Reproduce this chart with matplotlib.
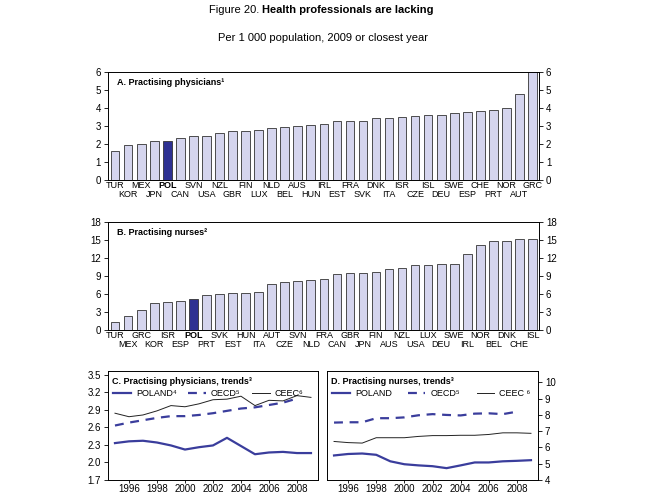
import numpy as np
import matplotlib
matplotlib.use("Agg")
import matplotlib.pyplot as plt

plt.rcParams['font.family'] = ['Liberation Sans', 'DejaVu Sans']

# ---------- data ----------
phys_countries = ["TUR", "KOR", "MEX", "JPN", "POL", "CAN", "SVN", "USA", "NZL", "GBR", "FIN",
                  "LUX", "NLD", "BEL", "AUS", "HUN", "IRL", "EST", "FRA", "SVK", "DNK", "ITA",
                  "ISR", "CZE", "ISL", "DEU", "SWE", "ESP", "CHE", "PRT", "NOR", "AUT", "GRC"]
phys_values = [1.6, 1.95, 2.0, 2.15, 2.18, 2.33, 2.45, 2.43, 2.6, 2.7, 2.72,
               2.75, 2.88, 2.92, 2.98, 3.03, 3.12, 3.27, 3.28, 3.28, 3.42, 3.42,
               3.5, 3.57, 3.6, 3.62, 3.72, 3.78, 3.82, 3.88, 4.0, 4.75, 6.1]

nurse_countries = ["TUR", "MEX", "GRC", "KOR", "ISR", "ESP", "POL", "PRT", "SVK", "EST", "HUN",
                   "ITA", "AUT", "CZE", "SVN", "NLD", "FRA", "CAN", "GBR", "JPN", "FIN", "AUS",
                   "NZL", "USA", "LUX", "DEU", "SWE", "IRL", "NOR", "BEL", "DNK", "CHE", "ISL"]
nurse_values = [1.4, 2.4, 3.3, 4.5, 4.7, 4.8, 5.2, 5.8, 6.0, 6.1, 6.2,
                6.4, 7.6, 8.0, 8.1, 8.4, 8.5, 9.3, 9.5, 9.5, 9.6, 10.1,
                10.4, 10.8, 10.9, 11.0, 11.0, 12.7, 14.1, 14.8, 14.8, 15.1, 15.2]

years = list(range(1995, 2010))
phys_poland = [2.33, 2.36, 2.37, 2.34, 2.29, 2.22, 2.26, 2.29, 2.42, 2.28, 2.14, 2.17, 2.18, 2.16, 2.16]
phys_oecd = [2.63, 2.68, 2.72, 2.76, 2.79, 2.79, 2.81, 2.84, 2.88, 2.92, 2.94, 2.98, 3.02, 3.09]
phys_ceec = [2.84, 2.78, 2.81, 2.88, 2.97, 2.95, 3.00, 3.07, 3.08, 3.13, 2.97, 3.06, 3.05, 3.14, 3.11]

nurse_poland = [5.51, 5.6, 5.63, 5.55, 5.15, 4.97, 4.9, 4.85, 4.73, 4.9, 5.08, 5.08, 5.15, 5.18, 5.22]
nurse_oecd = [7.53, 7.55, 7.55, 7.8, 7.8, 7.85, 7.98, 8.05, 8.0, 7.97, 8.08, 8.1, 8.05, 8.2]
nurse_ceec = [6.37, 6.3, 6.27, 6.6, 6.6, 6.6, 6.68, 6.73, 6.73, 6.75, 6.75, 6.8, 6.9, 6.9, 6.87]

BAR = "#D5D5EE"
POLC = "#2E3192"
LINE = "#3A3D9C"
FS = 7


def bar_panel(ax, names, vals, ymax, step, title):
    x = np.arange(len(names))
    cols = [POLC if n == "POL" else BAR for n in names]
    ax.bar(x, vals, width=0.66, color=cols, edgecolor="#333333", linewidth=0.6, zorder=2)
    ax.set_xlim(-0.55, len(names) - 0.5)
    ax.set_ylim(0, ymax)
    ax.set_yticks(np.arange(0, ymax + 0.1, step))
    ax.tick_params(axis="y", which="both", labelsize=FS, length=3, width=0.6,
                   left=True, right=True, labelleft=True, labelright=True, pad=2)
    # staggered country labels: even positions on the first row, odd ones below
    ax.set_xticks(x[::2], [names[i] for i in x[::2]], fontsize=6.5)
    ax.set_xticks(x[1::2], [names[i] for i in x[1::2]], minor=True, fontsize=6.5)
    ax.tick_params(axis="x", which="major", length=0, pad=1)
    ax.tick_params(axis="x", which="minor", length=0, pad=7.5)
    for lab in ax.get_xticklabels() + ax.get_xticklabels(minor=True):
        if lab.get_text() == "POL":
            lab.set_fontweight("bold")
    for s in ax.spines.values():
        s.set_linewidth(0.7)
    ax.text(0.02, 0.9, title, transform=ax.transAxes, fontsize=6.5, fontweight="bold",
            va="center", ha="left")


fig = plt.figure(figsize=(6.69, 4.98), dpi=100)

fig.text(0.392, 0.979, "Figure 20. ", fontsize=8, ha="right", va="center")
fig.text(0.392, 0.979, "Health professionals are lacking", fontsize=8, fontweight="bold",
         ha="left", va="center")
fig.text(0.483, 0.924, "Per 1 000 population, 2009 or closest year", fontsize=8,
         ha="center", va="center")

axA = fig.add_axes([0.1614, 0.6386, 0.6443, 0.2169])
bar_panel(axA, phys_countries, phys_values, 6, 1, "A. Practising physicians¹")

axB = fig.add_axes([0.1614, 0.3373, 0.6443, 0.2169])
bar_panel(axB, nurse_countries, nurse_values, 18, 3, "B. Practising nurses²")

# ---------- trend panels ----------
axC = fig.add_axes([0.1614, 0.0361, 0.3139, 0.2189])
axD = fig.add_axes([0.4888, 0.0361, 0.3154, 0.2189])

for ax, pol, oecd, ceec in [(axC, phys_poland, phys_oecd, phys_ceec),
                            (axD, nurse_poland, nurse_oecd, nurse_ceec)]:
    ax.plot(years, pol, color=LINE, lw=1.6, label="POLAND")
    ax.plot(years[:len(oecd)], oecd, color=LINE, lw=1.6, ls=(0, (4, 3)), label="OECD")
    ax.plot(years, ceec, color="#222222", lw=0.7, label="CEEC")
    ax.set_xlim(1994.5, 2009.5)
    ax.set_xticks(range(1996, 2009, 2))
    ax.tick_params(axis="x", labelsize=FS, length=2, width=0.6, pad=1)
    for s in ax.spines.values():
        s.set_linewidth(0.7)

axC.set_ylim(1.7, 3.56)
axC.set_yticks(np.arange(1.7, 3.51, 0.3))
axC.set_yticklabels([f"{v:.1f}" for v in np.arange(1.7, 3.51, 0.3)])
axC.tick_params(axis="y", labelsize=FS, length=3, width=0.6, pad=2)
axC.text(0.02, 0.9, "C. Practising physicians, trends³", transform=axC.transAxes,
         fontsize=6.5, fontweight="bold", va="center")
axC.legend(["POLAND⁴", "OECD⁵", "CEEC⁶"], loc="center left", bbox_to_anchor=(0.0, 0.79),
           ncol=3, frameon=False, fontsize=6.5, handlelength=1.9, columnspacing=1.3,
           handletextpad=0.6, borderaxespad=0.2)

axD.set_ylim(4, 10.7)
axD.set_yticks(range(4, 11))
axD.yaxis.tick_right()
axD.tick_params(axis="y", labelsize=FS, length=3, width=0.6, pad=2)
axD.text(0.02, 0.9, "D. Practising nurses, trends³", transform=axD.transAxes,
         fontsize=6.5, fontweight="bold", va="center")
axD.legend(["POLAND", "OECD⁵", "CEEC ⁶"], loc="center left", bbox_to_anchor=(0.0, 0.79),
           ncol=3, frameon=False, fontsize=6.5, handlelength=1.9, columnspacing=1.8,
           handletextpad=0.6, borderaxespad=0.2)

fig.savefig("out.png", dpi=100)
